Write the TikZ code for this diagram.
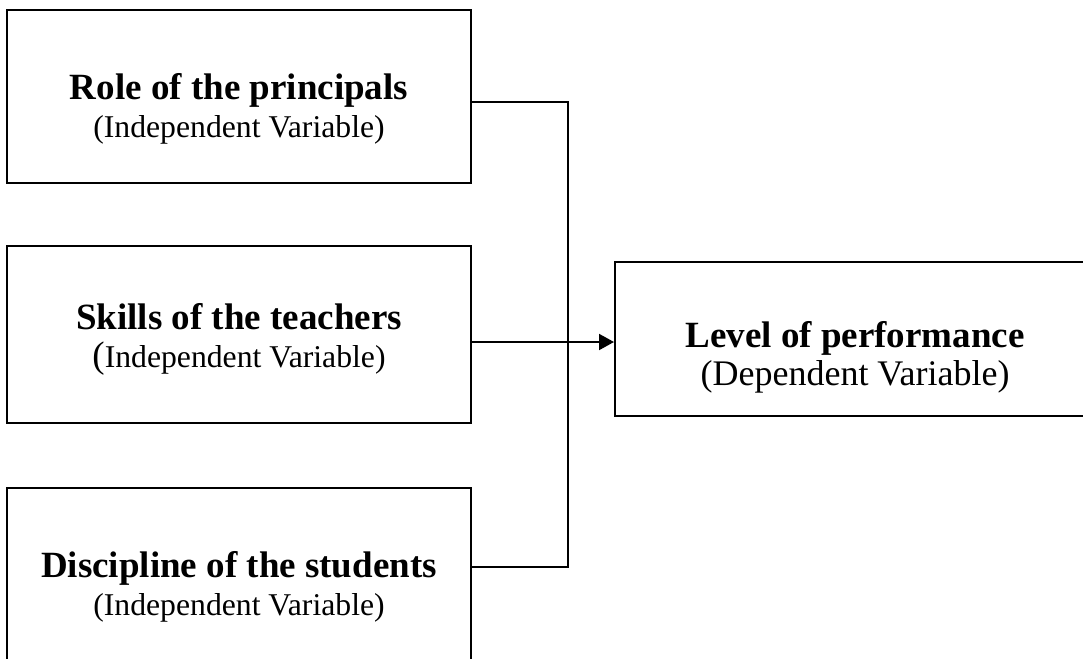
\documentclass[tikz,border=0pt]{standalone}
\usepackage{fontspec}
\setmainfont{Liberation Serif}
\usetikzlibrary{arrows.meta}
\begin{document}
\begin{tikzpicture}[
  x=1pt,y=-1pt,
  box/.style={draw,line width=2pt,minimum width=464pt,inner sep=0pt},
  txt/.style={align=center,font=\fontsize{31.7}{38}\selectfont},
  flow/.style={-{Triangle[length=15pt,width=16pt]},line width=2pt},
  link/.style={line width=2pt}]

\useasboundingbox (0,0) rectangle (1083,658);

% The boxes
\node[box,minimum height=173pt] (role) at (239,96.5) {};
\node[box,minimum height=177pt] (skills) at (239,334.5) {};
\node[box,minimum height=176pt] (discipline) at (239,576) {};
\node[box,minimum width=480pt,minimum height=154pt] (performance) at (855,339) {};

% The texts in the boxes
\node[txt] (roleText) at (239,108.5)
  {{\bfseries\fontsize{37}{38}\selectfont Role of the principals}\\(Independent Variable)};
\node[txt] (skillsText) at (239,339)
  {{\bfseries\fontsize{37}{38}\selectfont Skills of the teachers}\\{\fontsize{37}{38}\selectfont(}Independent Variable)};
\node[txt] (disciplineText) at (239,587)
  {{\bfseries\fontsize{37}{38}\selectfont Discipline of the students}\\(Independent Variable)};
\node[txt,font=\fontsize{36}{38}\selectfont] (performanceText) at (855,357.5)
  {{\bfseries\fontsize{37}{38}\selectfont Level of performance}\\(Dependent Variable)};

% Draw the connectors
\coordinate (bus) at (568,342);
\draw[link] ([yshift=-5.5pt]role.east) -| (bus) |- ([yshift=9pt]discipline.east);
\draw[flow] (skills.east |- bus) -- (performance.west |- bus);

\end{tikzpicture}
\end{document}
